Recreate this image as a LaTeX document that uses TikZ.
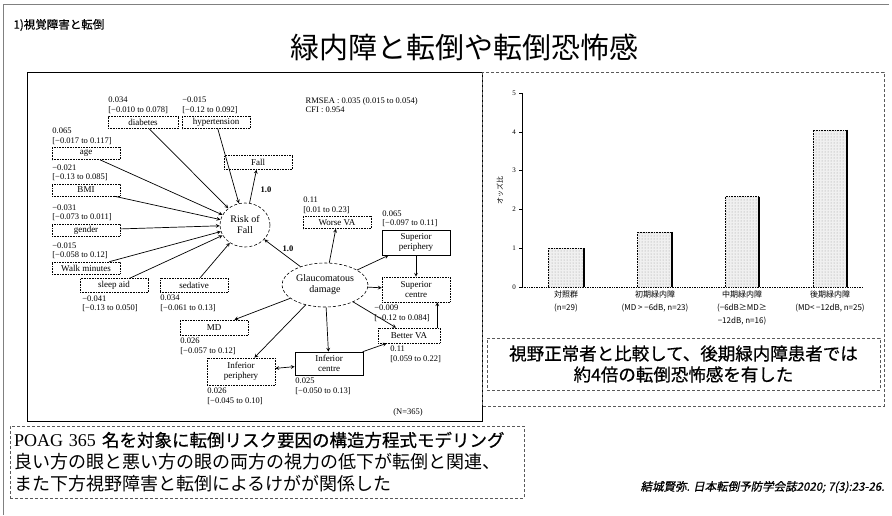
\documentclass[tikz,border=0pt]{standalone}
\usepackage{fontspec}
\setmainfont{Liberation Serif}
\newfontfamily\jp{Noto Sans CJK JP}
\newfontfamily\jpb[FakeBold=0.6]{Noto Sans CJK JP}
\newfontfamily\jpi[FakeSlant=0.2,FakeBold=0.8]{Noto Sans CJK JP}
\usetikzlibrary{shapes.geometric, patterns}
\newcommand{\semci}[2]{#1\\{}[#2]}

\begin{document}
\begin{tikzpicture}[x=1pt,y=-1pt]
							\tikzstyle{var} = [rectangle,draw=black,densely dotted,line width=0.6pt,minimum width=68pt,minimum height=12pt,inner sep=1pt,font=\fontsize{9}{9.5}\selectfont]
							\tikzstyle{var2} = [var,minimum height=25pt,align=center]
							\tikzstyle{var3} = [var2,solid]
							\tikzstyle{latent} = [ellipse,draw=black,densely dashed,line width=0.6pt,inner sep=0pt,align=center,font=\fontsize{10}{11}\selectfont]
							\tikzstyle{val} = [inner sep=0.5pt,align=left,font=\fontsize{8.5}{9.5}\selectfont]
							\tikzstyle{valup} = [val,anchor=south west,yshift=2pt]
							\tikzstyle{valdn} = [val,anchor=north west,yshift=-2pt]
							\tikzstyle{wt} = [inner sep=0pt,font=\bfseries\fontsize{8.5}{9}\selectfont]
							\tikzstyle{arr} = [->,>=stealth,line width=0.7pt]
							\tikzstyle{arr2} = [<->,>=stealth,line width=0.7pt]
							\tikzstyle{tick} = [inner sep=0pt,font=\fontsize{7}{7}\selectfont]
							\tikzstyle{cat} = [anchor=north,align=center,inner sep=0pt,font=\jp\fontsize{8}{13}\selectfont]
							\tikzstyle{tbox} = [draw=gray!70!black,densely dashed,line width=0.6pt,inner sep=3pt]
							\useasboundingbox (0,0) rectangle (892,515);
							\fill[white] (0,0) rectangle (892,515);
							
							% slide frame and headings
							\draw[gray,line width=0.5pt] (889,4) -- (3,4) -- (3,515);
							\node[anchor=west,font=\jpb\fontsize{11.5}{12}\selectfont] (sec) at (10,25) {1)視覚障害と転倒};
							\node[font=\jp\fontsize{29}{30}\selectfont] (title) at (464,47) {緑内障と転倒や転倒恐怖感};
							\draw[line width=0.8pt] (27,72) rectangle (482,421);
							\draw[gray!70!black,densely dashed,line width=0.6pt] (482,72) rectangle (884,406);
							
							% path model
							\node[val,anchor=west] (fit) at (305,105) {RMSEA : 0.035 (0.015 to 0.054)\\CFI : 0.954};
							\node[var,minimum width=70pt] (diab) at (143,122.5) {diabetes};
							\node[var] (hyp) at (216,122.5) {hypertension};
							\node[var] (age) at (86,153.5) {age};
							\node[var] (bmi) at (86,190) {BMI};
							\node[var] (gend) at (86,230) {gender};
							\node[var] (walk) at (86,268) {Walk minutes};
							\node[var,minimum height=14pt] (sleep) at (114,285.5) {sleep aid};
							\node[var,minimum height=14pt] (sed) at (194,285) {sedative};
							\node[var,minimum height=14pt] (fall) at (258,162.5) {Fall};
							\node[latent,minimum width=50pt,minimum height=44pt] (risk) at (245,225) {Risk of\\Fall};
							\node[latent,minimum width=86pt,minimum height=44pt] (glc) at (325,285) {Glaucomatous\\damage};
							\node[var] (wva) at (337,222.5) {Worse VA};
							\node[var3] (supp) at (416,242.5) {Superior\\periphery};
							\node[var2] (supc) at (416,289.5) {Superior\\centre};
							\node[var,minimum width=62pt,minimum height=15pt] (bva) at (409,335.5) {Better VA};
							\node[var,minimum height=15pt] (md) at (214,327.5) {MD};
							\node[var2,minimum height=27pt] (infp) at (241,371.5) {Inferior\\periphery};
							\node[var3,minimum height=23pt] (infc) at (329,363.5) {Inferior\\centre};
							
							\node[valup] (vdiab) at (diab.north west) {\semci{0.034}{−0.010 to 0.078}};
							\node[valup] (vhyp) at (hyp.north west) {\semci{−0.015}{−0.12 to 0.092}};
							\node[valup] (vage) at (age.north west) {\semci{0.065}{−0.017 to 0.117}};
							\node[valup] (vbmi) at (bmi.north west) {\semci{−0.021}{−0.13 to 0.085}};
							\node[valup] (vgend) at (gend.north west) {\semci{−0.031}{−0.073 to 0.011}};
							\node[valup] (vwalk) at (walk.north west) {\semci{−0.015}{−0.058 to 0.12}};
							\node[valdn] (vsleep) at ([xshift=2pt]sleep.south west) {\semci{−0.041}{−0.13 to 0.050}};
							\node[valdn] (vsed) at (sed.south west) {\semci{0.034}{−0.061 to 0.13}};
							\node[valup] (vwva) at (wva.north west) {\semci{0.11}{0.01 to 0.23}};
							\node[valup] (vsupp) at (supp.north west) {\semci{0.065}{−0.097 to 0.11}};
							\node[valdn] (vsupc) at ([xshift=-8pt]supc.south west) {\semci{−0.009}{−0.12 to 0.084}};
							\node[valdn] (vbva) at ([xshift=12pt]bva.south west) {\semci{0.11}{0.059 to 0.22}};
							\node[valdn] (vmd) at (md.south west) {\semci{0.026}{−0.057 to 0.12}};
							\node[valdn] (vinfp) at (infp.south west) {\semci{0.026}{−0.045 to 0.10}};
							\node[valdn] (vinfc) at (infc.south west) {\semci{0.025}{−0.050 to 0.13}};
							\node[wt] (w1) at (266,190) {1.0};
							\node[wt] (w2) at (288,249) {1.0};
							\node[val] (nn) at (408,412) {(N=365)};
							
							\draw[arr] (diab) -- (risk);
							\draw[arr] (hyp) -- (risk);
							\draw[arr] (age) -- (risk);
							\draw[arr] (bmi) -- (risk);
							\draw[arr] (gend) -- (risk);
							\draw[arr] (walk) -- (risk);
							\draw[arr] (sleep) -- (risk);
							\draw[arr] (sed) -- (risk);
							\draw[arr] (risk) -- (fall);
							\draw[arr] (glc) -- (risk);
							\draw[arr] (glc) -- (wva);
							\draw[arr] (glc) -- (supp);
							\draw[arr] (glc) -- (supc);
							\draw[arr] (glc) -- (bva);
							\draw[arr] (glc) -- (infc);
							\draw[arr] (glc) -- (md);
							\draw[arr] (glc) -- (infp);
							\draw[arr] (supp) -- (supc);
							\draw[arr] ([xshift=-3pt]bva.north east) -- ([xshift=-3pt]bva.north east |- supc.south);
							\draw[arr] (infc) -- (bva);
							\draw[arr2] (infp) -- (infc);
							
							% odds ratio chart
							\draw[line width=0.7pt] (522,93) -- (522,287);
							\draw[densely dotted,line width=0.7pt] (522,287) -- (863,287);
							\foreach \v in {0,...,5} {
								\draw[line width=0.5pt] (519,{287-38.8*\v}) -- (522,{287-38.8*\v});
								\node[tick] (t\v) at (514,{287-38.8*\v}) {\v};
							}
							\node[rotate=90,inner sep=0pt,font=\jp\fontsize{7}{7}\selectfont] (ylab) at (500,190) {オッズ比};
							\foreach \a/\b/\v in {548/584/1.0, 637/672/1.42, 725/759/2.33, 813/847/4.05} {
								\fill[gray!12] (\a,287) rectangle (\b,{287-38.8*\v});
								\fill[pattern=dots,pattern color=gray!80] (\a,287) rectangle (\b,{287-38.8*\v});
								\draw[densely dotted,line width=0.6pt] (\a,287) |- (\b,{287-38.8*\v});
								\draw[line width=1.4pt] (\b,{287-38.8*\v}) -- (\b,287);
							}
							\node[cat] (c1) at (566,291) {対照群\\(n=29)};
							\node[cat] (c2) at (655,291) {初期緑内障\\(MD > −6dB, n=23)};
							\node[cat] (c3) at (742,291) {中期緑内障\\(−6dB≥MD≥\\−12dB, n=16)};
							\node[cat] (c4) at (830,291) {後期緑内障\\(MD< −12dB, n=25)};
							
							% text boxes
							\node[tbox,minimum width=393pt,minimum height=52pt,align=center,font=\jpb\fontsize{17.5}{21}\selectfont] (msg) at (683.5,364) {視野正常者と比較して、後期緑内障患者では\\約4倍の転倒恐怖感を有した};
							\node[tbox,minimum width=514pt,minimum height=72pt,text width=506pt,align=left,font=\fontsize{18}{22}\selectfont] (sum) at (267,462) {{\fontsize{18}{22}\selectfont POAG 365 }{\jpb\fontsize{17.5}{22}\selectfont 名を対象に転倒リスク要因の構造方程式モデリング}\\{\jp 良い方の眼と悪い方の眼の両方の視力の低下が転倒と関連、}\\{\jp また下方視野障害と転倒によるけがが関係した}};
							\node[anchor=east,font=\jpi\fontsize{11.5}{12}\selectfont] (cite) at (888,487) {結城賢弥. 日本転倒予防学会誌2020; 7(3):23-26.};
\end{tikzpicture}
\end{document}
